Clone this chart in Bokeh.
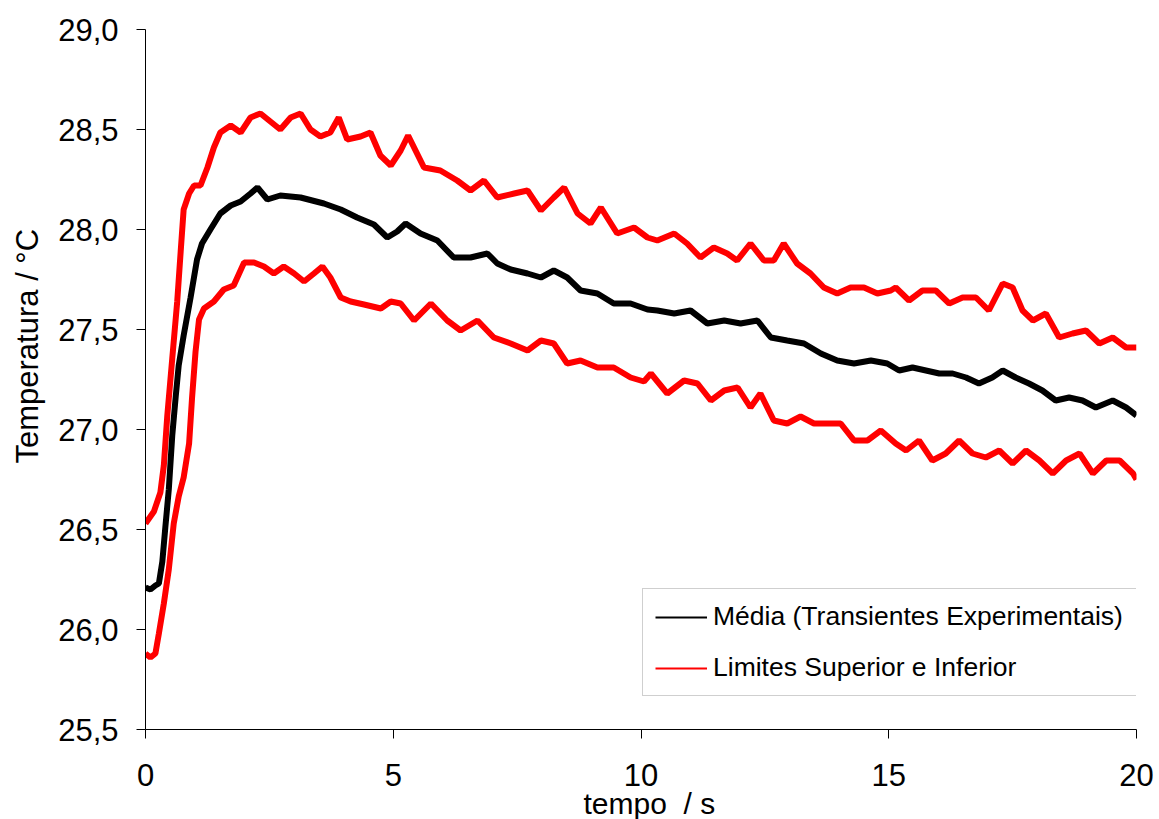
import math
from bokeh.plotting import figure
from bokeh.models import (Range1d, FixedTicker, CustomJSTickFormatter, Legend,
                          LegendItem, Title)
from bokeh.embed import file_html
from bokeh.resources import INLINE

# ---- data ----
t_media = [0.00, 0.10, 0.20, 0.27, 0.34, 0.40, 0.47, 0.54, 0.61, 0.67, 0.77, 0.91,
           1.04, 1.14, 1.31, 1.51, 1.72, 1.92, 2.12, 2.26, 2.46, 2.72, 3.13, 3.60,
           3.94, 4.27, 4.61, 4.88, 5.08, 5.25, 5.55, 5.89, 6.22, 6.56, 6.90, 7.10,
           7.37, 7.71, 7.98, 8.24, 8.51, 8.78, 9.12, 9.45, 9.79, 10.13, 10.33, 10.67,
           11.00, 11.34, 11.68, 12.01, 12.35, 12.62, 12.95, 13.29, 13.63, 13.96, 14.30,
           14.64, 14.97, 15.21, 15.48, 15.75, 16.02, 16.29, 16.56, 16.82, 17.09, 17.30,
           17.56, 17.83, 18.10, 18.37, 18.64, 18.91, 19.18, 19.52, 19.79, 20.00]
media = [26.21, 26.20, 26.22, 26.23, 26.34, 26.51, 26.70, 26.97, 27.165, 27.32, 27.47, 27.66,
         27.85, 27.93, 28.00, 28.08, 28.12, 28.14, 28.18, 28.21, 28.15, 28.17, 28.16, 28.13,
         28.10, 28.06, 28.025, 27.96, 27.99, 28.03, 27.98, 27.945, 27.86, 27.86, 27.88, 27.83,
         27.80, 27.78, 27.76, 27.795, 27.76, 27.695, 27.68, 27.63, 27.63, 27.60, 27.595, 27.58,
         27.595, 27.53, 27.545, 27.53, 27.545, 27.46, 27.445, 27.43, 27.38, 27.345, 27.33,
         27.345, 27.33, 27.295, 27.31, 27.295, 27.28, 27.28, 27.26, 27.23, 27.26, 27.295,
         27.26, 27.23, 27.195, 27.145, 27.16, 27.145, 27.11, 27.145, 27.11, 27.07]

t_sup = [0.00, 0.17, 0.30, 0.37, 0.44, 0.54, 0.64, 0.71, 0.77, 0.88, 0.98, 1.11, 1.25,
         1.38, 1.51, 1.72, 1.92, 2.12, 2.32, 2.52, 2.72, 2.93, 3.13, 3.33, 3.53, 3.73,
         3.90, 4.07, 4.34, 4.54, 4.74, 4.95, 5.15, 5.30, 5.38, 5.62, 5.95, 6.29, 6.56,
         6.83, 7.10, 7.44, 7.71, 7.98, 8.24, 8.45, 8.72, 8.98, 9.19, 9.52, 9.86, 10.13,
         10.33, 10.67, 10.93, 11.20, 11.47, 11.74, 11.94, 12.21, 12.48, 12.68, 12.88,
         13.15, 13.42, 13.69, 13.96, 14.23, 14.50, 14.77, 15.04, 15.14, 15.41, 15.68,
         15.95, 16.22, 16.49, 16.76, 17.02, 17.30, 17.50, 17.70, 17.91, 18.17, 18.44,
         18.71, 18.98, 19.25, 19.52, 19.79, 20.00]
sup = [26.53, 26.59, 26.685, 26.82, 27.07, 27.355, 27.64, 27.89, 28.10, 28.18, 28.22, 28.22, 28.31,
       28.41, 28.485, 28.52, 28.485, 28.56, 28.58, 28.54, 28.50, 28.56, 28.58, 28.50, 28.465, 28.485,
       28.56, 28.45, 28.465, 28.485, 28.37, 28.32, 28.395, 28.47, 28.43, 28.31, 28.295, 28.245, 28.195,
       28.245, 28.16, 28.18, 28.195, 28.095, 28.16, 28.21, 28.08, 28.03, 28.11, 27.98, 28.01, 27.96,
       27.945, 27.98, 27.93, 27.86, 27.91, 27.88, 27.845, 27.93, 27.845, 27.845, 27.93,
       27.83, 27.78, 27.71, 27.68, 27.71, 27.71, 27.68, 27.695, 27.71, 27.645, 27.695,
       27.695, 27.63, 27.66, 27.66, 27.595, 27.73, 27.71, 27.595, 27.545, 27.58, 27.46,
       27.48, 27.495, 27.43, 27.46, 27.41, 27.41]

t_inf = [0.00, 0.10, 0.20, 0.27, 0.37, 0.47, 0.57, 0.67, 0.77, 0.88, 0.94, 1.01, 1.08,
         1.18, 1.38, 1.58, 1.78, 1.99, 2.19, 2.39, 2.59, 2.79, 3.00, 3.20, 3.40, 3.57,
         3.73, 3.94, 4.14, 4.41, 4.75, 4.95, 5.15, 5.42, 5.76, 6.09, 6.36, 6.70, 7.03,
         7.37, 7.71, 7.98, 8.24, 8.51, 8.78, 9.12, 9.45, 9.79, 10.06, 10.20, 10.53,
         10.87, 11.14, 11.41, 11.68, 11.95, 12.21, 12.41, 12.68, 12.95, 13.22, 13.49,
         13.76, 14.03, 14.30, 14.57, 14.84, 15.14, 15.35, 15.61, 15.88, 16.15, 16.42,
         16.69, 16.96, 17.23, 17.50, 17.77, 18.04, 18.31, 18.58, 18.85, 19.12, 19.39,
         19.66, 19.93, 20.00]
inf = [25.88, 25.86, 25.88, 25.98, 26.13, 26.30, 26.53, 26.665, 26.76, 26.93, 27.16, 27.39, 27.55,
       27.605, 27.64, 27.70, 27.72, 27.835, 27.835, 27.815, 27.78, 27.815, 27.78, 27.74, 27.78, 27.815,
       27.76, 27.66, 27.64, 27.625, 27.605, 27.64, 27.63, 27.545, 27.63, 27.545, 27.495, 27.545, 27.46,
       27.43, 27.395, 27.445, 27.43, 27.33, 27.345, 27.31, 27.31, 27.26, 27.24, 27.28, 27.18,
       27.245, 27.23, 27.145, 27.195, 27.21, 27.11, 27.18, 27.045, 27.03, 27.065, 27.03,
       27.03, 27.03, 26.945, 26.945, 26.995, 26.93, 26.895, 26.945, 26.845, 26.88, 26.945,
       26.88, 26.86, 26.895, 26.83, 26.895, 26.845, 26.78, 26.845, 26.88, 26.78, 26.845,
       26.845, 26.78, 26.75]

x_ticks = [0, 5, 10, 15, 20]
y_ticks = [25.5, 26.0, 26.5, 27.0, 27.5, 28.0, 28.5, 29.0]
legend_labels = ["Média (Transientes Experimentais)", "Limites Superior e Inferior"]
x_title = "tempo\u00a0 / s"
y_title = "Temperatura / °C"

FONT = "Liberation Sans"

p = figure(width=1159, height=819, output_backend="svg", toolbar_location=None,
           x_range=Range1d(0, 20), y_range=Range1d(25.5, 29.0),
           min_border_left=145, min_border_right=23, min_border_top=29,
           min_border_bottom=90)
p.outline_line_color = None
p.grid.visible = False
p.background_fill_color = "white"
p.border_fill_color = "white"

for ax in (p.xaxis[0], p.yaxis[0]):
    ax.axis_line_color = "black"
    ax.major_tick_line_color = "black"
    ax.major_tick_out = 9
    ax.major_tick_in = 0
    ax.minor_tick_line_color = None
    ax.major_label_text_font = FONT
    ax.major_label_text_font_size = "31px"
    ax.major_label_text_color = "black"

p.xaxis[0].ticker = FixedTicker(ticks=x_ticks)
p.yaxis[0].ticker = FixedTicker(ticks=y_ticks)
p.yaxis[0].formatter = CustomJSTickFormatter(code="return tick.toFixed(1).replace('.', ',');")
p.xaxis[0].major_label_standoff = 25
p.yaxis[0].major_label_standoff = 18

LW = 6
p.line(t_inf, inf, line_color="red", line_width=LW)
p.line(t_sup, sup, line_color="red", line_width=LW)
p.line(t_media, media, line_color="black", line_width=LW)

# single-point renderers: draw nothing on the plot, only give the legend its thin swatches
r_leg_black = p.line(t_media[:1], media[:1], line_color="black", line_width=2)
r_leg_red = p.line(t_sup[:1], sup[:1], line_color="red", line_width=2)

legend = Legend(items=[LegendItem(label=legend_labels[0], renderers=[r_leg_black]),
                       LegendItem(label=legend_labels[1], renderers=[r_leg_red])],
                location=(497, 33), orientation="vertical")
legend.label_text_font = FONT
legend.label_text_font_size = "26.5px"
legend.label_text_color = "black"
legend.glyph_width = 52
legend.glyph_height = 24
legend.label_height = 24
legend.label_width = 420
legend.label_standoff = 6
legend.padding = 12
legend.spacing = 20
legend.margin = 0
legend.border_line_color = "#a0a0a0"
legend.border_line_width = 1
legend.background_fill_color = "white"
legend.background_fill_alpha = 1
p.add_layout(legend)

yt = Title(text=y_title, align="left", offset=266, standoff=18, vertical_align="top",
           text_font=FONT, text_font_size="31px", text_font_style="normal",
           text_color="black")
p.add_layout(yt, "left")
xt = Title(text=x_title, align="left", offset=438, standoff=-8,
           text_font=FONT, text_font_size="30px", text_font_style="normal",
           text_color="black")
p.add_layout(xt, "below")

open("out.html", "w").write(file_html(p, INLINE))
